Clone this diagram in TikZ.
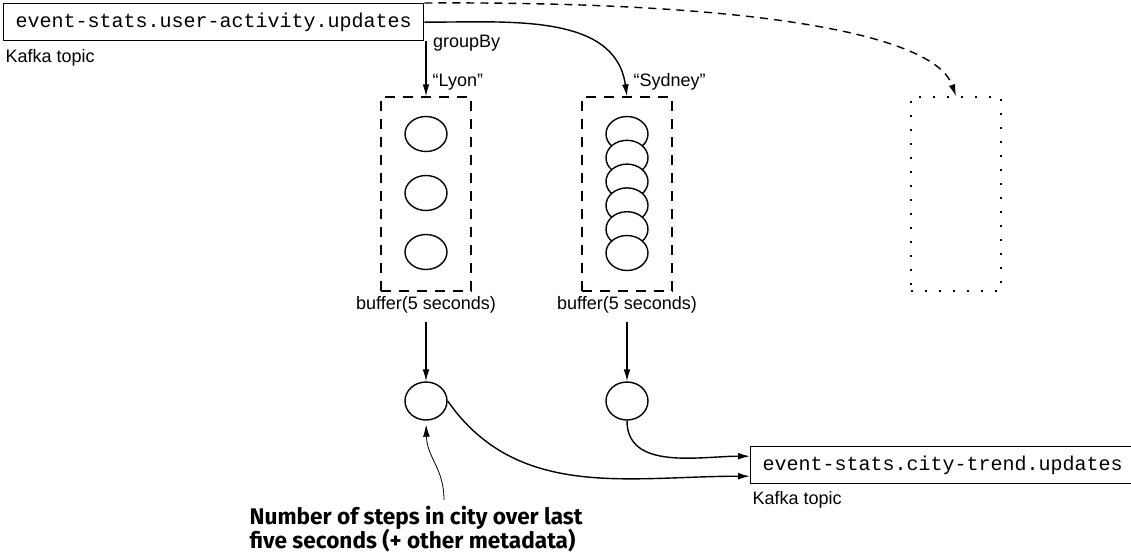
\documentclass[tikz,border=0pt]{standalone}
\usepackage{fontspec}
\setsansfont{Liberation Sans}
\setmonofont{Liberation Mono}
\newfontfamily\notefont{Fira Sans}
\usetikzlibrary{arrows.meta,positioning,shapes.geometric}

\begin{document}
\begin{tikzpicture}[x=0.5pt,y=-0.5pt,->,>={Latex[length=6pt,width=3.4pt]},line width=0.7pt,
        topic/.style={draw,font=\ttfamily\fontsize{10}{12}\selectfont,inner xsep=6pt,minimum height=18.5pt},
        lbl/.style={font=\sffamily\fontsize{9}{11}\selectfont,inner sep=1pt},
        window/.style={draw,dash pattern=on 5pt off 4pt,minimum width=45pt,minimum height=97pt},
        evt/.style={ellipse,draw,fill=white,minimum width=21pt,minimum height=17.5pt,inner sep=0pt}]
    \useasboundingbox (0,0) rectangle (1131,557);

    % topics
    \node[topic, anchor=north west] (usr) at (3,3) {event-stats.user-activity.updates};
    \node[lbl, anchor=north west] (usrlbl) at ([yshift=-2.5pt]usr.south west) {Kafka topic};
    \node[topic, anchor=north west] (trend) at (750,446) {event-stats.city-trend.updates};
    \node[lbl, anchor=north west] (trendlbl) at ([yshift=-2pt]trend.south west) {Kafka topic};

    % buffers
    \node[window] (lyon) at (426,194) {};
    \node[window] (syd) at (627,194) {};
    \node[window, dash pattern=on 0.9pt off 6.1pt] (other) at (956,194) {};
    \foreach \y [count=\i] in {134,193,252}
        \node[evt] (l\i) at (426,\y) {};
    \foreach \i in {0,...,5}
        \node[evt] (s\i) at (627,134+\i*23.8) {};

    \node[lbl, anchor=west] (grp) at ([xshift=3pt,yshift=-1pt]usr.south east) {groupBy};
    \node[lbl, anchor=south west] (lyonname) at ([xshift=2pt,yshift=1.5pt]lyon.north) {“Lyon”};
    \node[lbl, anchor=south west] (sydname) at ([xshift=2pt,yshift=1.5pt]syd.north) {“Sydney”};
    \node[lbl, below=1pt of lyon] (lyonbuf) {buffer(5 seconds)};
    \node[lbl, below=1pt of syd] (sydbuf) {buffer(5 seconds)};

    % results
    \node[evt, minimum height=19pt] (lyonres) at (426,401) {};
    \node[evt, minimum height=19pt] (sydres) at (627,401) {};

    \node[font=\notefont\bfseries\fontsize{11.3}{12.3}\selectfont, align=left, inner sep=0pt,
        anchor=north west] (note) at (249,505) {Number of steps in city over last\\five seconds (+ other metadata)};
    \coordinate (ptr) at (444,500);

    \path
    (usr.south -| lyon.north) edge (lyon.north)
    (usr.east) edge [out=0, in=98] (syd.north)
    (lyonbuf) edge [shorten <=3pt] (lyonres)
    (sydbuf) edge [shorten <=3pt] (sydres)
    (lyonres.east) edge [out=-55, in=180] ([yshift=-5.5pt]trend.west)
    (sydres.south) edge [out=-90, in=180] ([yshift=4.5pt]trend.west);

    \draw[dash pattern=on 4pt off 3pt] (usr.north east) .. controls (760,1) and (935,35) .. (other.north);
    \draw[line width=0.4pt, shorten >=2pt] (ptr) .. controls (444,468) and (427,458) .. (lyonres.south);
\end{tikzpicture}
\end{document}
